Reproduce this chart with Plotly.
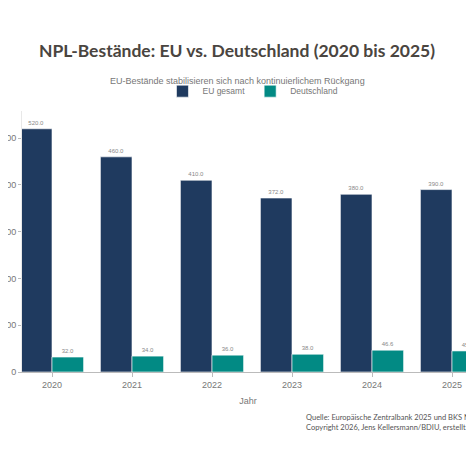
import plotly.graph_objects as go

# Daten
jahre = ["2020", "2021", "2022", "2023", "2024", "2025"]
eu_gesamt = [520.0, 460.0, 410.0, 372.0, 380.0, 390.0]
deutschland = [32.0, 34.0, 36.0, 38.0, 46.6, 45.0]

farbe_eu = "#1F3A5F"
farbe_de = "#028A84"

fig = go.Figure()

fig.add_trace(go.Bar(
    x=jahre, y=eu_gesamt, name="EU gesamt",
    marker=dict(color=farbe_eu, line=dict(color="rgba(255,255,255,0.6)", width=1)),
    texttemplate="%{y:.1f}", textposition="outside",
    textfont=dict(size=6, color="#888888"), cliponaxis=False,
))
fig.add_trace(go.Bar(
    x=jahre, y=deutschland, name="Deutschland",
    marker=dict(color=farbe_de, line=dict(color="rgba(255,255,255,0.6)", width=1)),
    texttemplate="%{y:.1f}", textposition="outside",
    textfont=dict(size=6, color="#888888"), cliponaxis=False,
))

# Seite hat 8px Rand -> Figur 466x466
fig.update_layout(
    width=466, height=466,
    margin=dict(l=14, r=0, t=103, b=102, autoexpand=False),
    barmode="group", bargap=0.21, bargroupgap=0,
    paper_bgcolor="white", plot_bgcolor="white",
    font=dict(family="Liberation Sans, Arial", size=9, color="#777777"),
    title=dict(
        text="<b>NPL-Bestände: EU vs. Deutschland (2020 bis 2025)</b>",
        x=229 / 466, xanchor="center", y=1 - 43 / 466, yanchor="middle",
        font=dict(family="Lato", size=17.5, color="#4A4540"),
    ),
    legend=dict(
        orientation="h", x=0.511, xanchor="center", y=1.076, yanchor="middle",
        font=dict(size=8.5, color="#777777"),
    ),
    showlegend=True,
)

fig.update_xaxes(
    type="category", range=[-0.375, 5.275], automargin=False,
    showline=True, linecolor="#BBBBBB", linewidth=1,
    ticks="outside", tickcolor="#BBBBBB", ticklen=4,
    tickfont=dict(size=9, color="#777777"),
    title=dict(text="Jahr", font=dict(size=9, color="#777777"), standoff=8),
    showgrid=False,
)
fig.update_yaxes(
    range=[0, 558], dtick=100, automargin=False,
    showline=True, linecolor="#E8E8E8", linewidth=1,
    ticks="outside", tickcolor="#BBBBBB", ticklen=3,
    tickfont=dict(size=9, color="#777777"),
    showgrid=False, zeroline=False,
)

# Untertitel
fig.add_annotation(
    text="EU-Bestände stabilisieren sich nach kontinuierlichem Rückgang",
    xref="paper", yref="paper", x=0.4757, y=1.115,
    xanchor="center", yanchor="middle", showarrow=False,
    font=dict(size=9, color="#777777"),
)

# Quelle
fig.add_annotation(
    text="Quelle: Europäische Zentralbank 2025 und BKS NPL-Monitor 2025<br>"
         "Copyright 2026, Jens Kellersmann/BDIU, erstellt mit Plotly",
    xref="paper", yref="paper", x=0.624, y=(372 - 411) / 261,
    xanchor="left", yanchor="top", align="left", showarrow=False,
    font=dict(family="Lato", size=7.5, color="#555555"),
)

fig.write_html("out.html")
